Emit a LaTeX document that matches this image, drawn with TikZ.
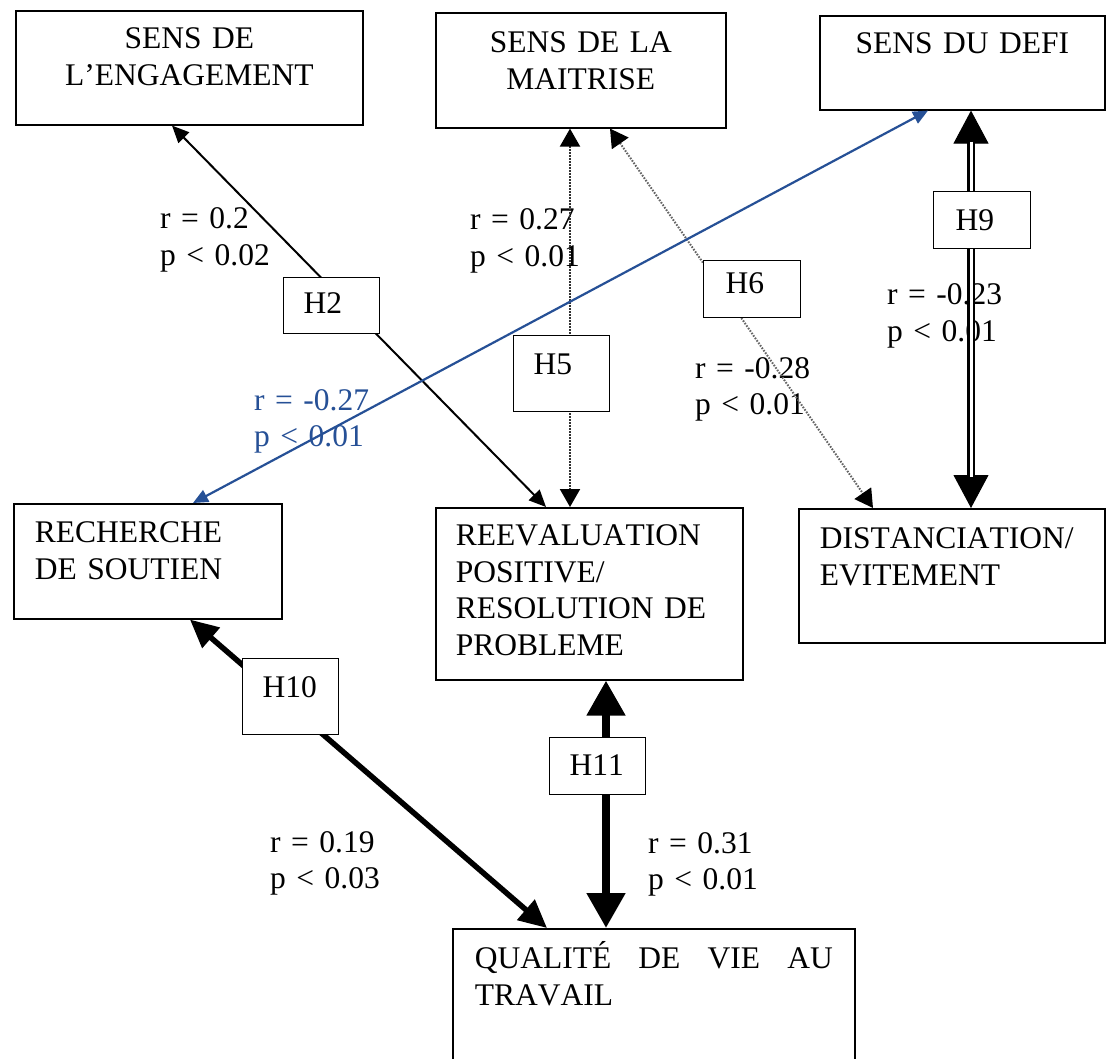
\documentclass[tikz,border=0pt]{standalone}
\usepackage{fontspec}
\setmainfont[Kerning=Off]{Liberation Serif}
\usetikzlibrary{arrows.meta}
\definecolor{linkblue}{RGB}{38,80,150}
\definecolor{dotdark}{RGB}{50,50,50}
\definecolor{dotlight}{RGB}{100,100,100}
\begin{document}
\begin{tikzpicture}[x=1pt,y=-1pt,
  font=\fontsize{31.5}{36.5}\selectfont,
  concept/.style={draw, line width=1.6pt, fill=white, anchor=north west, inner ysep=0pt},
  hyp/.style={draw, line width=1.4pt, fill=white, anchor=north west, inner ysep=0pt,
              inner xsep=20pt, text width=56pt, align=left},
  stat/.style={inner sep=0pt, anchor=base west, text width=170pt, align=left},
  plainlink/.style={line width=2pt,
     {Triangle[length=17pt,width=15pt]}-{Triangle[length=17pt,width=15pt]}},
  dotlink/.style={line width=2pt, dash pattern=on 1.6pt off 1.4pt,
     {Triangle[length=18pt,width=20pt,color=black]}-{Triangle[length=18pt,width=20pt,color=black]}},
  bluelink/.style={line width=2.2pt, draw=linkblue,
     {Triangle[length=15pt,width=13pt]}-{Triangle[length=15pt,width=13pt]}},
  boldlink/.style={line width=5.5pt,
     {Triangle[length=28pt,width=26pt]}-{Triangle[length=28pt,width=26pt]}},
  heavylink/.style={line width=8pt,
     {Triangle[length=35pt,width=37pt]}-{Triangle[length=35pt,width=37pt]}},
  twintips/.style={line width=1pt,
     {Triangle[length=33pt,width=35pt]}-{Triangle[length=33pt,width=35pt]}},
  twinline/.style={double, double distance=3pt, line width=2.4pt,
     shorten <=31pt, shorten >=31pt}
]
\useasboundingbox (0,0) rectangle (1106,1059);
\fill[white] (0,0) rectangle (1106,1059);
\clip (0,0) rectangle (1106,1059);

% concept boxes
\node[concept, text width=347pt, inner xsep=0pt, align=center, text height=38pt, text depth=76pt]
  (eng) at (15,10) {SENS DE\\L’ENGAGEMENT};
\node[concept, text width=290pt, inner xsep=0pt, align=center, text height=40pt, text depth=75pt]
  (mait) at (435,12) {SENS DE LA\\MAITRISE};
\node[concept, text width=285pt, inner xsep=0pt, align=center, text height=38pt, text depth=56pt]
  (defi) at (819,15) {SENS DU DEFI};
\node[concept, text width=226pt, inner xsep=21pt, align=left, text height=39pt, text depth=76pt]
  (rech) at (13,503) {RECHERCHE\\DE SOUTIEN};
\node[concept, text width=267pt, inner xsep=20pt, align=left, text height=38pt, text depth=134pt]
  (reev) at (435,507) {REEVALUATION\\POSITIVE/\\RESOLUTION DE\\PROBLEME};
\node[concept, text width=264pt, inner xsep=21pt, align=left, text height=40pt, text depth=94pt]
  (dist) at (798,508) {DISTANCIATION/\\EVITEMENT};
\node[concept, text width=358pt, inner xsep=22pt, align=left, text height=40pt, text depth=130pt]
  (qual) at (452,928) {\makebox[\linewidth]{QUALITÉ\hfill DE\hfill VIE\hfill AU}\\TRAVAIL};

% correlation statistics
\node[stat] (s2) at (160,229) {r = 0.2\\p < 0.02};
\node[stat] (s5) at (470,230) {r = 0.27\\p < 0.01};
\node[stat, text=linkblue] (sb) at (254,410) {r = -0.27\\p < 0.01};
\node[stat] (s6) at (695,378) {r = -0.28\\p < 0.01};
\node[stat] (s9) at (887,305) {r = -0.23\\p < 0.01};
\node[stat] (s10) at (270,852) {r = 0.19\\p < 0.03};
\node[stat] (s11) at (648,853) {r = 0.31\\p < 0.01};

% links
\draw[plainlink] ([xshift=157pt]eng.south west) -- ([xshift=111pt]reev.north west);
\draw[dotlink, draw=dotdark] ([xshift=135pt]mait.south west) -- ([xshift=135pt]reev.north west);
\draw[dotlink, draw=dotlight] ([xshift=175pt]mait.south west) -- ([xshift=75pt]dist.north west);
\draw[bluelink] ([xshift=109pt]defi.south west) -- ([xshift=180pt]rech.north west);
\draw[twintips] ([xshift=152pt]defi.south west) -- ([xshift=173pt]dist.north west);
\draw[twinline] ([xshift=152pt]defi.south west) -- ([xshift=173pt]dist.north west);
\draw[boldlink] ([xshift=177pt]rech.south west) -- ([xshift=95pt]qual.north west);
\draw[heavylink] ([xshift=171pt]reev.south west) -- ([xshift=154pt]qual.north west);

% hypothesis tags
\node[hyp, text height=36pt, text depth=20pt] (h2) at (283,277) {H2};
\node[hyp, text height=39pt, text depth=37pt] (h5) at (513,335) {H5};
\node[hyp, text height=33pt, text depth=24pt, inner xsep=22pt, text width=53pt] (h6) at (703,260) {H6};
\node[hyp, text height=39pt, text depth=18pt, inner xsep=22pt, text width=53pt] (h9) at (933,191) {H9};
\node[hyp, text height=39pt, text depth=37pt] (h10) at (242,658) {H10};
\node[hyp, text height=38pt, text depth=19pt] (h11) at (549,737) {H11};
\end{tikzpicture}
\end{document}
